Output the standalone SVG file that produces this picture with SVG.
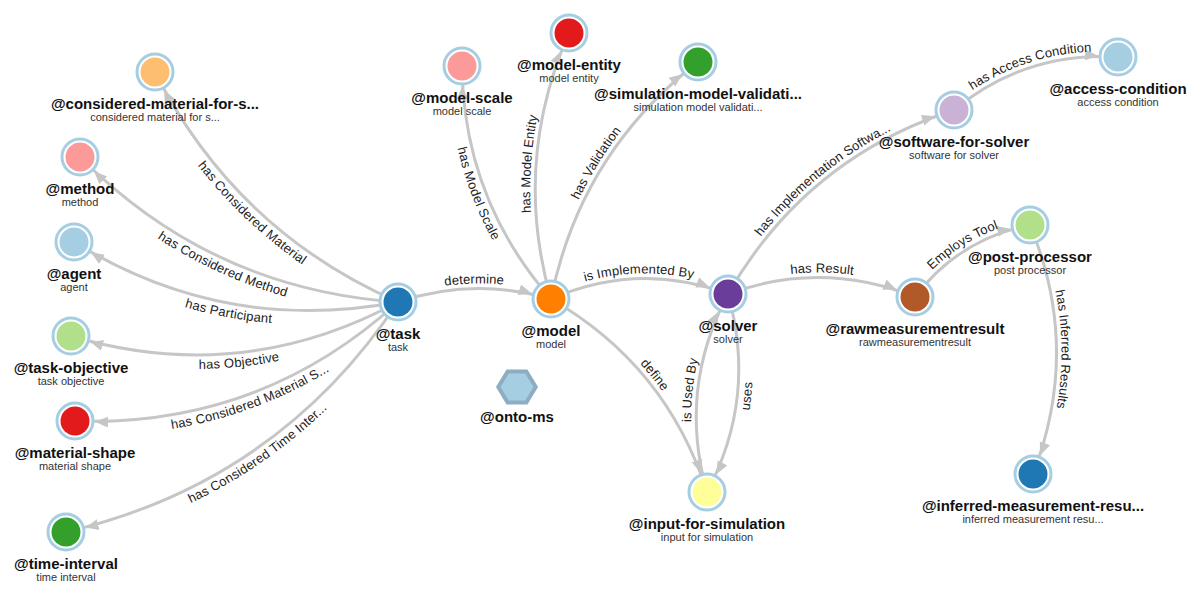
<svg xmlns="http://www.w3.org/2000/svg" xmlns:xlink="http://www.w3.org/1999/xlink" width="1200" height="593" viewBox="0 0 1200 593">
<style>
.edge{fill:none;stroke:#c6c6c6;stroke-width:3;marker-end:url(#arrow)}
.el{font-family:"Liberation Sans",Arial,sans-serif;font-size:13px;fill:#222;text-anchor:middle}
.ring{fill:#fff;stroke:#a6cee3;stroke-width:3}
.t{font-family:"Liberation Sans",Arial,sans-serif;font-size:15px;font-weight:bold;fill:#111;text-anchor:middle}
.s{font-family:"Liberation Sans",Arial,sans-serif;font-size:11px;fill:#333;text-anchor:middle}
</style>
<defs>
<marker id="arrow" viewBox="0 -7 36 14" refX="33" refY="0" markerWidth="36" markerHeight="14" markerUnits="userSpaceOnUse" orient="auto">
<path d="M0,-5.5L13,0L0,5.5Z" fill="#c6c6c6"/>
</marker>
<path id="r1" d="M155,72 Q235.3,230.6 398,302"/>
<path id="r2" d="M80,157 Q211.6,289.6 398,302"/>
<path id="r3" d="M74,242 Q224.3,334.9 398,302"/>
<path id="r4" d="M71,336 Q241.5,386.6 398,302"/>
<path id="r5" d="M75,421 Q260.7,427.2 398,302"/>
<path id="r6" d="M66,532 Q277.6,482.8 398,302"/>
<path id="r8" d="M462,66 Q463.5,198.9 551,299"/>
<path id="r19" d="M707,492 Q757.3,397.2 728,294"/>
</defs>
<rect width="1200" height="593" fill="#fff"/>
<g id="connectors">
<path id="e1" class="edge" d="M398,302 Q235.3,230.6 155,72"/>
<path id="e2" class="edge" d="M398,302 Q211.6,289.6 80,157"/>
<path id="e3" class="edge" d="M398,302 Q224.3,334.9 74,242"/>
<path id="e4" class="edge" d="M398,302 Q241.5,386.6 71,336"/>
<path id="e5" class="edge" d="M398,302 Q260.7,427.2 75,421"/>
<path id="e6" class="edge" d="M398,302 Q277.6,482.8 66,532"/>
<path id="e7" class="edge" d="M398,302 Q474,276.5 551,299"/>
<path id="e8" class="edge" d="M551,299 Q463.5,198.9 462,66"/>
<path id="e9" class="edge" d="M551,299 Q512.1,162.8 569,33"/>
<path id="e10" class="edge" d="M551,299 Q580.3,153.1 698,62"/>
<path id="e11" class="edge" d="M551,299 Q638.5,260.5 728,294"/>
<path id="e12" class="edge" d="M551,299 Q666.3,365.3 707,492"/>
<path id="e13" class="edge" d="M728,294 Q805.6,158.6 954,110"/>
<path id="e14" class="edge" d="M954,110 Q1025.5,51.2 1118,57"/>
<path id="e15" class="edge" d="M728,294 Q822.1,259.5 915,297"/>
<path id="e16" class="edge" d="M915,297 Q958.7,239 1030,225"/>
<path id="e17" class="edge" d="M1030,225 Q1081.5,348.9 1033,474"/>
<path id="e18" class="edge" d="M707,492 Q677.7,388.8 728,294"/>
<path id="e19" class="edge" d="M728,294 Q757.3,397.2 707,492"/>
<text class="el" dy="14"><textPath href="#r1" startOffset="50%">has Considered Material</textPath></text>
<text class="el" dy="14"><textPath href="#r2" startOffset="50%">has Considered Method</textPath></text>
<text class="el" dy="14"><textPath href="#r3" startOffset="50%">has Participant</textPath></text>
<text class="el" dy="14"><textPath href="#r4" startOffset="50%">has Objective</textPath></text>
<text class="el" dy="14"><textPath href="#r5" startOffset="50%">has Considered Material S...</textPath></text>
<text class="el" dy="14"><textPath href="#r6" startOffset="50%">has Considered Time Inter...</textPath></text>
<text class="el" dy="-5"><textPath href="#e7" startOffset="50%">determine</textPath></text>
<text class="el" dy="14"><textPath href="#r8" startOffset="50%">has Model Scale</textPath></text>
<text class="el" dy="-5"><textPath href="#e9" startOffset="50%">has Model Entity</textPath></text>
<text class="el" dy="-5"><textPath href="#e10" startOffset="50%">has Validation</textPath></text>
<text class="el" dy="-5"><textPath href="#e11" startOffset="50%">is Implemented By</textPath></text>
<text class="el" dy="-5"><textPath href="#e12" startOffset="50%">define</textPath></text>
<text class="el" dy="-5"><textPath href="#e13" startOffset="50%">has Implementation Softwa...</textPath></text>
<text class="el" dy="-5"><textPath href="#e14" startOffset="50%">has Access Condition</textPath></text>
<text class="el" dy="-5"><textPath href="#e15" startOffset="50%">has Result</textPath></text>
<text class="el" dy="-5"><textPath href="#e16" startOffset="50%">Employs Tool</textPath></text>
<text class="el" dy="-5"><textPath href="#e17" startOffset="50%">has Inferred Results</textPath></text>
<text class="el" dy="-5"><textPath href="#e18" startOffset="50%">is Used By</textPath></text>
<text class="el" dy="14"><textPath href="#r19" startOffset="50%">uses</textPath></text>
</g>
<g id="node-considered-material">
<circle class="ring" cx="155" cy="72" r="18"/><circle cx="155" cy="72" r="14.5" fill="#fdbf6f"/>
<text class="t" x="155" y="109">@considered-material-for-s...</text><text class="s" x="155" y="120.5">considered material for s...</text>
</g>
<g id="node-method">
<circle class="ring" cx="80" cy="157" r="18"/><circle cx="80" cy="157" r="14.5" fill="#fb9a99"/>
<text class="t" x="80" y="194">@method</text><text class="s" x="80" y="205.5">method</text>
</g>
<g id="node-agent">
<circle class="ring" cx="74" cy="242" r="18"/><circle cx="74" cy="242" r="14.5" fill="#a6cee3"/>
<text class="t" x="74" y="279">@agent</text><text class="s" x="74" y="290.5">agent</text>
</g>
<g id="node-task-objective">
<circle class="ring" cx="71" cy="336" r="18"/><circle cx="71" cy="336" r="14.5" fill="#b2df8a"/>
<text class="t" x="71" y="373">@task-objective</text><text class="s" x="71" y="384.5">task objective</text>
</g>
<g id="node-material-shape">
<circle class="ring" cx="75" cy="421" r="18"/><circle cx="75" cy="421" r="14.5" fill="#e31a1c"/>
<text class="t" x="75" y="458">@material-shape</text><text class="s" x="75" y="469.5">material shape</text>
</g>
<g id="node-time-interval">
<circle class="ring" cx="66" cy="532" r="18"/><circle cx="66" cy="532" r="14.5" fill="#33a02c"/>
<text class="t" x="66" y="569">@time-interval</text><text class="s" x="66" y="580.5">time interval</text>
</g>
<g id="node-task">
<circle class="ring" cx="398" cy="302" r="18"/><circle cx="398" cy="302" r="14.5" fill="#1f78b4"/>
<text class="t" x="398" y="339">@task</text><text class="s" x="398" y="350.5">task</text>
</g>
<g id="node-model-scale">
<circle class="ring" cx="462" cy="66" r="18"/><circle cx="462" cy="66" r="14.5" fill="#fb9a99"/>
<text class="t" x="462" y="103">@model-scale</text><text class="s" x="462" y="114.5">model scale</text>
</g>
<g id="node-model-entity">
<circle class="ring" cx="569" cy="33" r="18"/><circle cx="569" cy="33" r="14.5" fill="#e31a1c"/>
<text class="t" x="569" y="70">@model-entity</text><text class="s" x="569" y="81.5">model entity</text>
</g>
<g id="node-simulation-model-validation">
<circle class="ring" cx="698" cy="62" r="18"/><circle cx="698" cy="62" r="14.5" fill="#33a02c"/>
<text class="t" x="698" y="99">@simulation-model-validati...</text><text class="s" x="698" y="110.5">simulation model validati...</text>
</g>
<g id="node-model">
<circle class="ring" cx="551" cy="299" r="18"/><circle cx="551" cy="299" r="14.5" fill="#ff7f00"/>
<text class="t" x="551" y="336">@model</text><text class="s" x="551" y="347.5">model</text>
</g>
<g id="node-solver">
<circle class="ring" cx="728" cy="294" r="18"/><circle cx="728" cy="294" r="14.5" fill="#6a3d9a"/>
<text class="t" x="728" y="331">@solver</text><text class="s" x="728" y="342.5">solver</text>
</g>
<g id="node-input-for-simulation">
<circle class="ring" cx="707" cy="492" r="18"/><circle cx="707" cy="492" r="14.5" fill="#ffff99"/>
<text class="t" x="707" y="529">@input-for-simulation</text><text class="s" x="707" y="540.5">input for simulation</text>
</g>
<g id="node-software-for-solver">
<circle class="ring" cx="954" cy="110" r="18"/><circle cx="954" cy="110" r="14.5" fill="#cab2d6"/>
<text class="t" x="954" y="147">@software-for-solver</text><text class="s" x="954" y="158.5">software for solver</text>
</g>
<g id="node-access-condition">
<circle class="ring" cx="1118" cy="57" r="18"/><circle cx="1118" cy="57" r="14.5" fill="#a6cee3"/>
<text class="t" x="1118" y="94">@access-condition</text><text class="s" x="1118" y="105.5">access condition</text>
</g>
<g id="node-post-processor">
<circle class="ring" cx="1030" cy="225" r="18"/><circle cx="1030" cy="225" r="14.5" fill="#b2df8a"/>
<text class="t" x="1030" y="262">@post-processor</text><text class="s" x="1030" y="273.5">post processor</text>
</g>
<g id="node-rawmeasurementresult">
<circle class="ring" cx="915" cy="297" r="18"/><circle cx="915" cy="297" r="14.5" fill="#b15928"/>
<text class="t" x="915" y="334">@rawmeasurementresult</text><text class="s" x="915" y="345.5">rawmeasurementresult</text>
</g>
<g id="node-inferred-measurement-result">
<circle class="ring" cx="1033" cy="474" r="18"/><circle cx="1033" cy="474" r="14.5" fill="#1f78b4"/>
<text class="t" x="1033" y="511">@inferred-measurement-resu...</text><text class="s" x="1033" y="522.5">inferred measurement resu...</text>
</g>
<g id="node-onto-ms">
<polygon points="535.7,387 526.35,402.5 507.65,402.5 498.3,387 507.65,371.5 526.35,371.5" fill="#a6cee3" stroke="#8dadc3" stroke-width="4"/>
<text class="t" x="517" y="422">@onto-ms</text>
</g>
</svg>
